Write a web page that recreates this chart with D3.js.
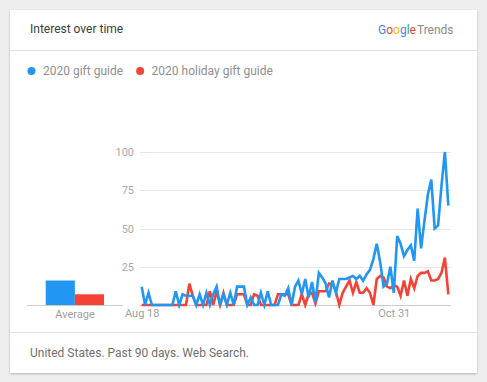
<!DOCTYPE html>
<html>
<head>
<meta charset="utf-8">
<script src="https://cdn.jsdelivr.net/npm/d3@7"></script>
<style>
  html, body { margin: 0; padding: 0; background: #eeeeee; }
  svg { display: block; font-family: Roboto, "Noto Sans", Arial, sans-serif; }
</style>
</head>
<body>
<svg id="chart" width="487" height="382"></svg>
<script>
// ---- data ----
const seriesNames = ["2020 gift guide", "2020 holiday gift guide"];
const seriesColors = ["#2196f3", "#f44336"];
const startDate = "2020-08-18";
const giftGuide = [
  12, 0, 8, 0, 0, 0, 0, 0, 0, 0,
  9, 0, 7, 6, 6, 6, 0, 7, 0, 8,
  0, 7, 12, 0, 7, 0, 8, 0, 12, 12,
  12, 0, 5, 0, 0, 8, 0, 9, 0, 0,
  0, 7, 6, 11, 0, 12, 16, 7, 17, 5,
  15, 2, 21, 18, 14, 5, 16, 8, 17, 17,
  17, 18, 19, 17, 19, 16, 20, 23, 30, 40,
  28, 12, 14, 25, 8, 45, 40, 32, 36, 39,
  29, 63, 37, 55, 72, 82, 50, 52, 78, 100,
  65
];
const holidayGiftGuide = [
  0, 0, 0, 0, 0, 0, 0, 0, 0, 0,
  0, 0, 0, 0, 14, 6, 0, 0, 0, 0,
  9, 0, 9, 0, 8, 0, 0, 0, 7, 7,
  7, 0, 0, 7, 6, 0, 0, 0, 0, 0,
  7, 7, 7, 7, 0, 0, 0, 7, 0, 7,
  8, 1, 9, 9, 9, 14, 14, 9, 0, 8,
  12, 16, 8, 15, 8, 8, 11, 8, 0, 17,
  19, 18, 12, 11, 13, 12, 6, 16, 6, 17,
  11, 19, 21, 21, 22, 16, 16, 17, 21, 31,
  7
];
const averages = [16, 7];
const yTicks = [0, 25, 50, 75, 100];
const xTickDates = ["2020-08-18", "2020-10-31"];
const xTickLabels = ["Aug 18", "Oct 31"];
const titleText = "Interest over time";
const footerText = "United States. Past 90 days. Web Search.";

// ---- drawing ----
const svg = d3.select("#chart");
const parse = d3.timeParse("%Y-%m-%d");
const t0 = parse(startDate);
const dates = giftGuide.map((_, i) => d3.timeDay.offset(t0, i));

// card
const defs = svg.append("defs");
const f = defs.append("filter").attr("id", "shadow").attr("x", "-5%").attr("y", "-5%").attr("width", "110%").attr("height", "110%");
f.append("feDropShadow").attr("dx", 0).attr("dy", 1).attr("stdDeviation", 1).attr("flood-color", "#000").attr("flood-opacity", 0.25);
svg.append("rect").attr("x", 10).attr("y", 10).attr("width", 467).attr("height", 363)
  .attr("fill", "#ffffff").attr("filter", "url(#shadow)");
svg.append("line").attr("x1", 10).attr("x2", 477).attr("y1", 50.5).attr("y2", 50.5).attr("stroke", "#e0e0e0");
svg.append("line").attr("x1", 10).attr("x2", 477).attr("y1", 332.5).attr("y2", 332.5).attr("stroke", "#e0e0e0");

svg.append("text").attr("x", 30).attr("y", 32.5).attr("font-size", 12).attr("fill", "#3c3c3c").text(titleText);

// Google Trends logo
const logo = svg.append("text").attr("x", 378).attr("y", 33.5).attr("font-size", 12);
[["G", "#4285f4"], ["o", "#ea4335"], ["o", "#fbbc05"], ["g", "#4285f4"], ["l", "#34a853"], ["e", "#ea4335"]]
  .forEach(([c, col]) => logo.append("tspan").attr("fill", col).text(c));
logo.append("tspan").attr("fill", "#8a8a8a").attr("dx", 1).text("Trends");

// legend
let lx = 31.5;
seriesNames.forEach((name, i) => {
  svg.append("circle").attr("cx", lx).attr("cy", 71).attr("r", 4).attr("fill", seriesColors[i]);
  const t = svg.append("text").attr("x", lx + 11.5).attr("y", 75).attr("font-size", 12).attr("fill", "#8f8f8f").text(name);
  lx += 11.5 + t.node().getComputedTextLength() + 17;
});

// scales
const y = d3.scaleLinear().domain([0, 100]).range([305, 152]);
const x = d3.scaleTime().domain([dates[0], dates[dates.length - 1]]).range([141.7, 448.3]);

// gridlines
svg.append("g").selectAll("line").data(yTicks.filter(v => v > 0)).join("line")
  .attr("x1", 140).attr("x2", 451)
  .attr("y1", d => Math.round(y(d)) + 0.5).attr("y2", d => Math.round(y(d)) + 0.5)
  .attr("stroke", "#e6e6e6");
svg.append("g").selectAll("text").data(yTicks.filter(v => v > 0)).join("text")
  .attr("x", 134).attr("y", d => y(d) + 4).attr("text-anchor", "end")
  .attr("font-size", 11).attr("fill", "#a8a8a8").text(d => d);
svg.append("line").attr("x1", 140).attr("x2", 451).attr("y1", 305.5).attr("y2", 305.5).attr("stroke", "#cccccc");

// x axis labels
const xAxis = d3.axisBottom(x).tickValues(xTickDates.map(parse))
  .tickFormat((d, i) => xTickLabels[i]).tickSize(0).tickPadding(0);
const gx = svg.append("g").attr("transform", "translate(0,309)").call(xAxis);
gx.select(".domain").remove();
gx.selectAll("text").attr("font-size", 11).attr("fill", "#9e9e9e").attr("font-family", "Roboto, sans-serif").attr("dy", "0.71em");

// lines (red below blue)
const line = d3.line().x((d, i) => x(dates[i])).y(d => y(d));
[[holidayGiftGuide, seriesColors[1]], [giftGuide, seriesColors[0]]].forEach(([data, col]) => {
  svg.append("path").datum(data).attr("d", line).attr("fill", "none")
    .attr("stroke", col).attr("stroke-width", 2.6).attr("stroke-linejoin", "miter").attr("stroke-miterlimit", 4);
});

// average bars
const bx = d3.scaleBand().domain(seriesNames).range([45.7, 104]).padding(0);
svg.append("g").selectAll("rect").data(averages).join("rect")
  .attr("x", (d, i) => bx(seriesNames[i])).attr("width", bx.bandwidth())
  .attr("y", d => y(d)).attr("height", d => y(0) - y(d))
  .attr("fill", (d, i) => seriesColors[i]);
svg.append("line").attr("x1", 27).attr("x2", 123).attr("y1", 305.5).attr("y2", 305.5).attr("stroke", "#cccccc");
svg.append("text").attr("x", 75).attr("y", 318).attr("text-anchor", "middle").attr("font-size", 11).attr("fill", "#9e9e9e").text("Average");

// footer
svg.append("text").attr("x", 30).attr("y", 357).attr("font-size", 12).attr("fill", "#707070").text(footerText);
</script>
</body>
</html>
